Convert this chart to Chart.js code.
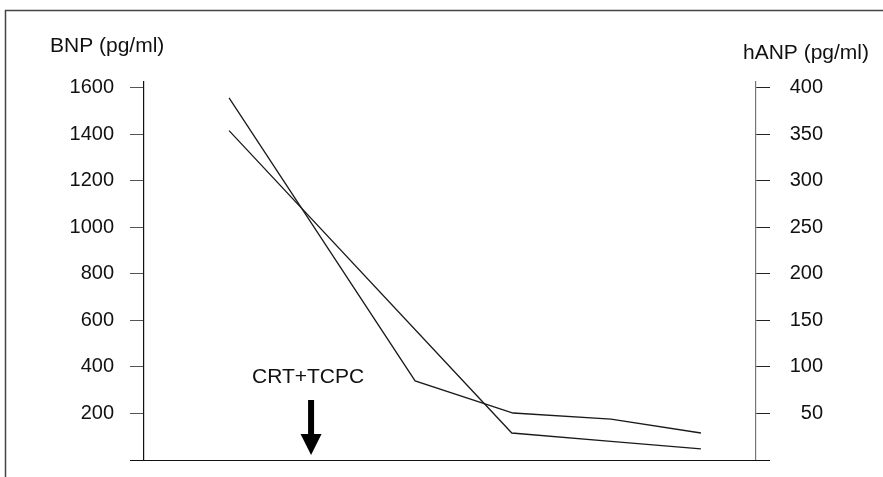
<!DOCTYPE html>
<html lang="en">
<head>
    <meta charset="UTF-8">
    <title>BNP / hANP</title>
    <script src="https://cdn.jsdelivr.net/npm/chart.js"></script>
    <style>
        body {
            margin: 0;
            background-color: #fff;
            overflow: hidden;
        }
        canvas {
            display: block;
        }
    </style>
</head>
<body>
    <canvas id="myChart" width="883" height="477"></canvas>

    <script>
        // Valores (eje x en unidades de tiempo arbitrarias)
        const bnpTiempo = [13.9, 44.3, 60.3, 76.3, 91.0];
        const bnpValores = [1557, 340, 202, 176, 116];
        const hanpTiempo = [13.9, 60.1, 76.3, 91.0];
        const hanpValores = [354, 29, 20, 12];

        const ticksBNP = [200, 400, 600, 800, 1000, 1200, 1400, 1600];
        const ticksHANP = [50, 100, 150, 200, 250, 300, 350, 400];

        const tiempoIntervencion = 27.3;
        const textoIntervencion = "CRT+TCPC";

        const fuente = "'Liberation Sans', Arial, sans-serif";
        Chart.defaults.font.family = fuente;
        Chart.defaults.color = "#111";

        const toXY = (xs, ys) => xs.map((x, i) => ({ x: x, y: ys[i] }));

        // Marco, línea base, títulos de ejes y flecha
        const decoracion = {
            id: "decoracion",
            beforeDraw(chart) {
                const c = chart.ctx;
                c.save();
                c.strokeStyle = "#444";
                c.lineWidth = 1.5;
                c.strokeRect(5.5, 10.5, 1200, 1200);
                c.restore();
            },
            afterDraw(chart) {
                const c = chart.ctx;
                const a = chart.chartArea;
                const yl = chart.scales.y;
                const yr = chart.scales.y1;
                c.save();
                // línea base extendida hasta las marcas
                c.strokeStyle = "#111";
                c.lineWidth = 1.2;
                c.beginPath();
                c.moveTo(a.left - yl.options.grid.tickLength, a.bottom + 0.5);
                c.lineTo(a.right + yr.options.grid.tickLength, a.bottom + 0.5);
                c.stroke();

                c.fillStyle = "#111";
                c.font = "21px " + fuente;
                c.textBaseline = "alphabetic";
                c.textAlign = "left";
                c.fillText("BNP (pg/ml)", 50, 52);
                c.textAlign = "right";
                c.fillText("hANP (pg/ml)", 869, 59);

                // flecha
                const x = chart.scales.x.getPixelForValue(tiempoIntervencion);
                const tip = a.bottom - 5;
                c.fillStyle = "#000";
                c.fillRect(x - 3, tip - 55, 6, 36);
                c.beginPath();
                c.moveTo(x - 10.5, tip - 21);
                c.lineTo(x + 10.5, tip - 21);
                c.lineTo(x, tip);
                c.closePath();
                c.fill();

                c.fillStyle = "#111";
                c.textAlign = "center";
                c.font = "21px " + fuente;
                c.fillText(textoIntervencion, x - 3, tip - 72);
                c.restore();
            }
        };

        const ctx = document.getElementById("myChart").getContext("2d");

        new Chart(ctx, {
            type: "line",
            data: {
                datasets: [
                    {
                        label: "BNP",
                        data: toXY(bnpTiempo, bnpValores),
                        yAxisID: "y",
                        borderColor: "#1a1a1a",
                        borderWidth: 1.3,
                        pointRadius: 0,
                        tension: 0,
                        fill: false
                    },
                    {
                        label: "hANP",
                        data: toXY(hanpTiempo, hanpValores),
                        yAxisID: "y1",
                        borderColor: "#1a1a1a",
                        borderWidth: 1.3,
                        pointRadius: 0,
                        tension: 0,
                        fill: false
                    }
                ]
            },
            options: {
                responsive: false,
                animation: false,
                layout: {
                    padding: { left: 0, right: 60, top: 82, bottom: 17 }
                },
                plugins: {
                    legend: { display: false },
                    tooltip: { enabled: false }
                },
                scales: {
                    x: {
                        type: "linear",
                        min: 0,
                        max: 100,
                        display: false
                    },
                    y: {
                        position: "left",
                        min: 0,
                        max: 1625,
                        afterBuildTicks(scale) {
                            scale.ticks = ticksBNP.map(v => ({ value: v }));
                        },
                        afterFit(scale) {
                            scale.width = 144;
                            scale.paddingTop = 0;
                            scale.paddingBottom = 0;
                        },
                        grid: {
                            drawOnChartArea: false,
                            drawTicks: true,
                            tickLength: 14,
                            color: "#555",
                            lineWidth: 1
                        },
                        border: { display: true, color: "#111", width: 1.2 },
                        ticks: {
                            padding: 16,
                            font: { size: 20 },
                            color: "#111",
                            callback: v => String(v)
                        }
                    },
                    y1: {
                        position: "right",
                        min: 0,
                        max: 406.25,
                        afterBuildTicks(scale) {
                            scale.ticks = ticksHANP.map(v => ({ value: v }));
                        },
                        afterFit(scale) {
                            scale.width = 67;
                            scale.paddingTop = 0;
                            scale.paddingBottom = 0;
                        },
                        grid: {
                            drawOnChartArea: false,
                            drawTicks: true,
                            tickLength: 14,
                            color: "#222",
                            lineWidth: 1
                        },
                        border: { display: true, color: "#777", width: 1.2 },
                        ticks: {
                            padding: 19,
                            crossAlign: "far",
                            font: { size: 20 },
                            color: "#111",
                            callback: v => String(v)
                        }
                    }
                }
            },
            plugins: [decoracion]
        });
    </script>
</body>
</html>
